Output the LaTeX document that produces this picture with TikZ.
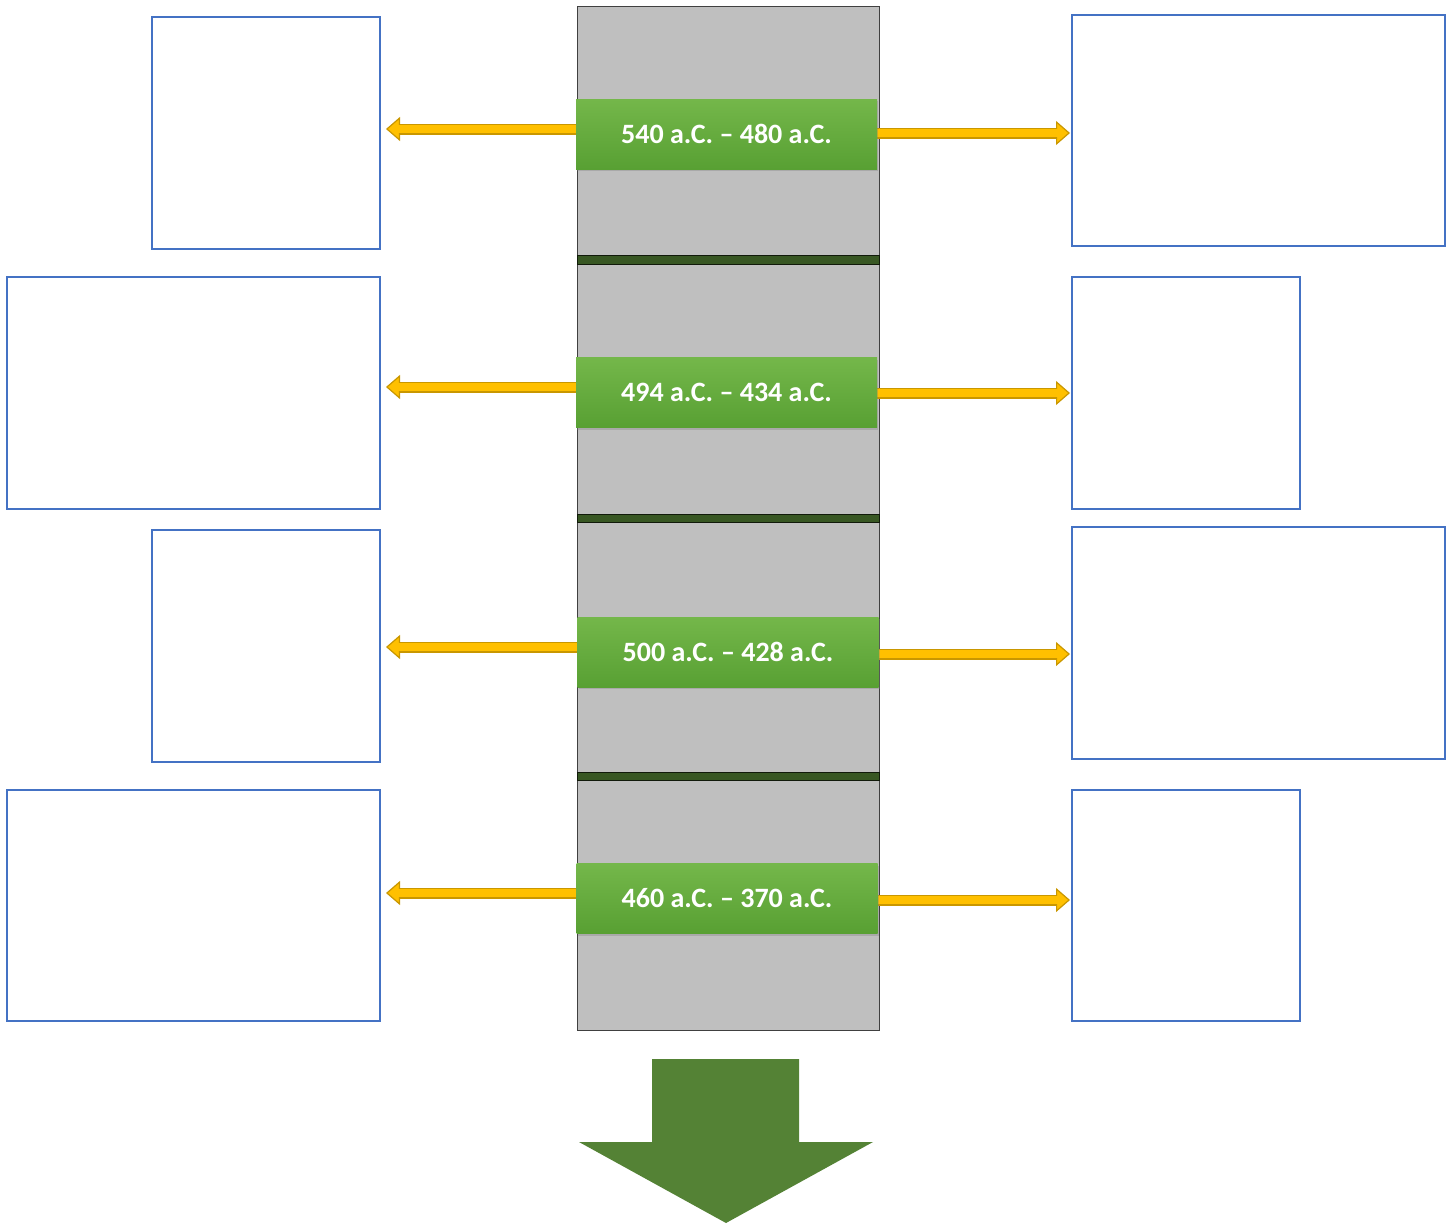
\documentclass[tikz,border=0pt]{standalone}
\usepackage{fontspec}
\setmainfont{Carlito}
\usetikzlibrary{arrows.meta,shadows,calc}
\definecolor{boxblue}{HTML}{4472C4}
\definecolor{colgray}{HTML}{BFBFBF}
\definecolor{coledge}{HTML}{404040}
\definecolor{sepgreen}{HTML}{385723}
\definecolor{labtop}{HTML}{74B74A}
\definecolor{labbot}{HTML}{58A033}
\definecolor{arrfill}{HTML}{FFC000}
\definecolor{arredge}{HTML}{C99700}
\definecolor{bigarrow}{HTML}{548235}
\tikzset{
  boxst/.style={draw=boxblue, line width=1pt, fill=white, inner sep=0pt, outer sep=0pt},
  segst/.style={draw=coledge, line width=0.5pt, fill=colgray, inner sep=0pt, outer sep=0pt, minimum width=151pt},
  sepst/.style={draw=black!70!sepgreen, line width=0.4pt, fill=sepgreen, inner sep=0pt, outer sep=0pt, minimum width=151pt},
  labst/.style={top color=labtop, bottom color=labbot, draw=none, inner sep=0pt, outer sep=0pt,
    minimum width=150.5pt, minimum height=35pt, text=white, font=\bfseries\fontsize{14}{16}\selectfont,
    drop shadow={shadow xshift=0.6pt, shadow yshift=-1.2pt, opacity=0.35}},
  yarrow/.style={draw=arredge, line width=5.5pt,
    -{Triangle[length=7pt, width=12pt, fill=arrfill, line width=0.6pt]},
    postaction={draw=arrfill, line width=4pt, -, shorten >=7pt}},
}
\begin{document}
\begin{tikzpicture}[x=0.5pt,y=-0.5pt]
\useasboundingbox (0,0) rectangle (1455,1226);
% column
\node[segst, minimum height=124.5pt] (s1) at (728,130.5) {};
\node[segst, minimum height=125pt] (s2) at (728,389) {};
\node[segst, minimum height=125pt] (s3) at (728,647) {};
\node[segst, minimum height=125pt] (s4) at (728,905) {};
\node[sepst, minimum height=4.5pt] (p1) at (728,259.5) {};
\node[sepst, minimum height=4pt] (p2) at (728,518) {};
\node[sepst, minimum height=4pt] (p3) at (728,776) {};
% boxes
\node[boxst, minimum width=114pt, minimum height=116pt] (L1) at (266,133) {};
\node[boxst, minimum width=186.5pt, minimum height=115.5pt] (R1) at (1258.5,130.5) {};
\node[boxst, minimum width=186.5pt, minimum height=116pt] (L2) at (193.5,393) {};
\node[boxst, minimum width=114pt, minimum height=116pt] (R2) at (1186,393) {};
\node[boxst, minimum width=114pt, minimum height=116pt] (L3) at (266,646) {};
\node[boxst, minimum width=186.5pt, minimum height=116pt] (R3) at (1258.5,643) {};
\node[boxst, minimum width=186.5pt, minimum height=115.5pt] (L4) at (193.5,905.5) {};
\node[boxst, minimum width=114pt, minimum height=115.5pt] (R4) at (1186,905.5) {};
% arrows (drawn before labels so labels cover their starts)
\coordinate (a1) at (584,129);  \coordinate (b1) at (870,133);
\coordinate (a2) at (584,387);  \coordinate (b2) at (870,393);
\coordinate (a3) at (586,647);  \coordinate (b3) at (871,654);
\coordinate (a4) at (585,893);  \coordinate (b4) at (870,900);
\draw[yarrow, shorten >=3pt] (a1) -- (a1 -| L1.east);
\draw[yarrow, shorten >=3pt] (a2) -- (a2 -| L2.east);
\draw[yarrow, shorten >=3pt] (a3) -- (a3 -| L3.east);
\draw[yarrow, shorten >=3pt] (a4) -- (a4 -| L4.east);
\draw[yarrow, shorten >=1pt] (b1) -- (b1 -| R1.west);
\draw[yarrow, shorten >=1pt] (b2) -- (b2 -| R2.west);
\draw[yarrow, shorten >=1pt] (b3) -- (b3 -| R3.west);
\draw[yarrow, shorten >=1pt] (b4) -- (b4 -| R4.west);
% labels
\node[labst] (g1) at (726.5,134) {540 a.C. – 480 a.C.};
\node[labst] (g2) at (726.5,392.5) {494 a.C. – 434 a.C.};
\node[labst] (g3) at (728,652) {500 a.C. – 428 a.C.};
\node[labst] (g4) at (727,898.5) {460 a.C. – 370 a.C.};
% big arrow
\fill[bigarrow] (652,1059) -- (799,1059) -- (799,1142) -- (873,1142) -- (726,1223) -- (579,1142) -- (652,1142) -- cycle;
\end{tikzpicture}
\end{document}
